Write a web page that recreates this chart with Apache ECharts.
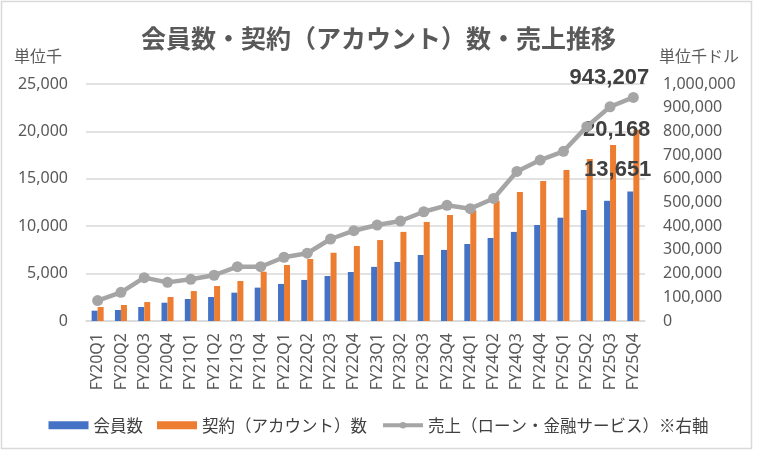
<!DOCTYPE html>
<html>
<head>
<meta charset="utf-8">
<script src="https://cdn.jsdelivr.net/npm/echarts@6/dist/echarts.min.js"></script>
<style>
html,body{margin:0;padding:0;background:#fff;}
#c{width:757px;height:451px;}
</style>
</head>
<body>
<div id="c"></div>
<script>
const categories = ['FY20Q1','FY20Q2','FY20Q3','FY20Q4','FY21Q1','FY21Q2','FY21Q3','FY21Q4','FY22Q1','FY22Q2','FY22Q3','FY22Q4','FY23Q1','FY23Q2','FY23Q3','FY23Q4','FY24Q1','FY24Q2','FY24Q3','FY24Q4','FY25Q1','FY25Q2','FY25Q3','FY25Q4'];
const members = [1090,1160,1480,1930,2320,2530,2990,3520,3910,4330,4750,5170,5710,6230,6960,7500,8120,8760,9400,10130,10900,11710,12680,13651];
const contracts = [1480,1690,2000,2530,3160,3690,4220,5200,5910,6540,7200,7910,8540,9400,10450,11180,11680,12680,13620,14770,15930,17090,18570,20168];
const sales = [86000,121000,183000,163000,176000,193000,229000,229000,269000,286000,346000,381000,405000,422000,461000,488000,474000,517000,631000,679000,716000,820000,904000,943207];
const leftTicks = {min:0, max:25000, interval:5000};
const rightTicks = {min:0, max:1000000, interval:100000};

const fmt = v => Number(v).toLocaleString('en-US');
const last = categories.length - 1;
const labelStyle = {fontFamily:'Liberation Sans', fontWeight:'bold', fontSize:22, color:'#404040'};

function lastOnly(arr, labelCfg){
  return arr.map((v,i)=> i===last ? {value:v, label:Object.assign({show:true, formatter:p=>fmt(p.value)}, labelStyle, labelCfg)} : v);
}

const chart = echarts.init(document.getElementById('c'), null, {renderer:'canvas'});
chart.setOption({
  animation:false,
  backgroundColor:'#fff',
  title:{
    text:'会員数・契約（アカウント）数・売上推移',
    left:'center', top:21,
    textStyle:{fontFamily:'Noto Sans CJK JP', fontWeight:'bold', fontSize:25, color:'#595959'}
  },
  graphic:[{type:'rect', shape:{x:1.5,y:1.5,width:750,height:447}, style:{fill:'none', stroke:'#D9D9D9', lineWidth:1.5}, silent:true}],
  legend:{
    left:'center', top:412, itemWidth:40, itemHeight:8, itemGap:14,
    textStyle:{fontFamily:'Noto Sans CJK JP', fontSize:16.5, color:'#404040'},
    data:[
      {name:'会員数', icon:'rect'},
      {name:'契約（アカウント）数', icon:'rect'},
      {name:'売上（ローン・金融サービス）※右軸', lineStyle:{width:4, color:'#A5A5A5'}, itemStyle:{color:'#A5A5A5'}}
    ]
  },
  grid:{left:86, right:112, top:84, bottom:130},
  xAxis:{
    type:'category', data:categories,
    axisLine:{lineStyle:{color:'#D9D9D9', width:1.5}},
    axisTick:{show:false},
    axisLabel:{rotate:90, margin:12, fontFamily:'Noto Sans', fontSize:16, color:'#595959', interval:0}
  },
  yAxis:[{
    type:'value', min:leftTicks.min, max:leftTicks.max, interval:leftTicks.interval,
    name:'単位千', nameLocation:'end', nameGap:20,
    nameTextStyle:{fontFamily:'Noto Sans CJK JP', fontSize:16, color:'#595959', align:'right', padding:[0,24,0,0]},
    axisLine:{show:false}, axisTick:{show:false},
    splitLine:{lineStyle:{color:'#D9D9D9', width:1.5}},
    axisLabel:{margin:18, fontFamily:'Noto Sans', fontSize:16, color:'#595959', formatter:v=>fmt(v)}
  },{
    type:'value', min:rightTicks.min, max:rightTicks.max, interval:rightTicks.interval,
    name:'単位千ドル', nameLocation:'end', nameGap:20,
    nameTextStyle:{fontFamily:'Noto Sans CJK JP', fontSize:16, color:'#595959', align:'left', padding:[0,0,0,14]},
    axisLine:{show:false}, axisTick:{show:false}, splitLine:{show:false},
    axisLabel:{margin:18, fontFamily:'Noto Sans', fontSize:16, color:'#595959', formatter:v=>fmt(v)}
  }],
  series:[{
    name:'会員数', type:'bar', yAxisIndex:0, barWidth:6, barGap:'0%',
    itemStyle:{color:'#4472C4'},
    data:lastOnly(members, {position:[24,-22], align:'right', verticalAlign:'middle'})
  },{
    name:'契約（アカウント）数', type:'bar', yAxisIndex:0, barWidth:6, barGap:'0%',
    itemStyle:{color:'#ED7D31'},
    data:lastOnly(contracts, {position:[17,0], align:'right', verticalAlign:'middle'})
  },{
    name:'売上（ローン・金融サービス）※右軸', type:'line', yAxisIndex:1,
    symbol:'circle', symbolSize:11,
    lineStyle:{color:'#A5A5A5', width:4.5},
    itemStyle:{color:'#A5A5A5'},
    data:lastOnly(sales, {position:'top', offset:[-24,2]})
  }]
});
</script>
</body>
</html>
